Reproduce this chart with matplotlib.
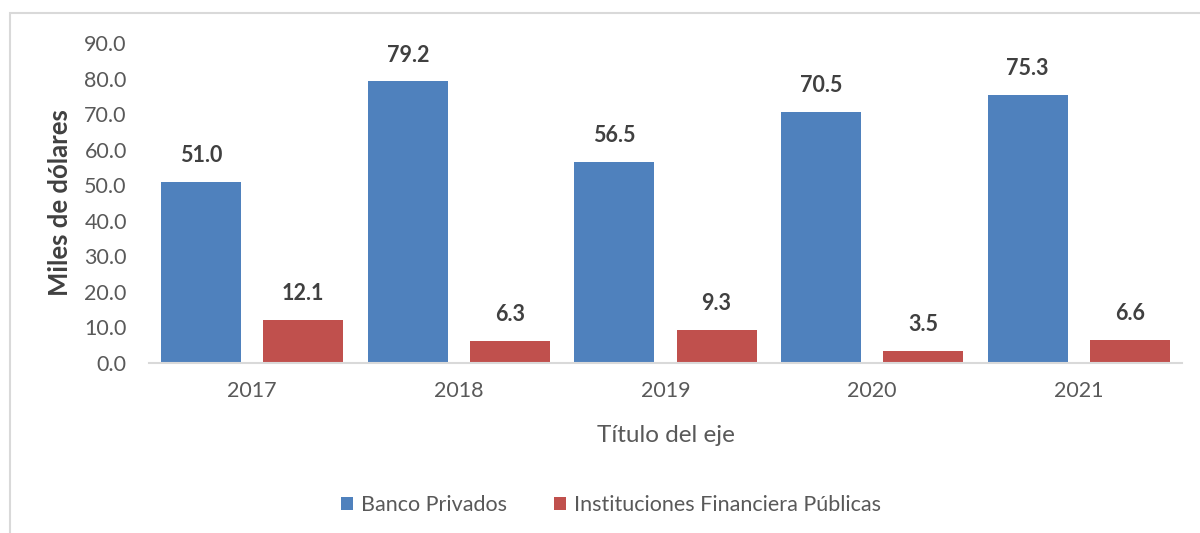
import matplotlib
matplotlib.use("Agg")
import matplotlib.pyplot as plt
import numpy as np
from matplotlib.patches import Rectangle

years = ["2017", "2018", "2019", "2020", "2021"]
banco_privados = [51.0, 79.2, 56.5, 70.5, 75.3]
inst_publicas = [12.1, 6.3, 9.3, 3.5, 6.6]
yticks = [0, 10, 20, 30, 40, 50, 60, 70, 80, 90]

plt.rcParams['font.family'] = ['Lato', 'DejaVu Sans']

BLUE = "#4F81BD"
RED = "#C0504D"
TXT = "#595959"
LBL = "#404040"

fig = plt.figure(figsize=(12, 5.33), dpi=100)
fig.patches.append(Rectangle((10/1200, -0.05), 1.2, 1.05 - 13/533, transform=fig.transFigure,
                             fill=False, edgecolor="#D9D9D9", linewidth=1.5, zorder=0))
ax = fig.add_axes([149/1200, 1 - 363/533, (1182 - 149)/1200, (363 - 43)/533])

x = np.arange(len(years))
w = 0.387
off = 0.247
b1 = ax.bar(x - off, banco_privados, w, color=BLUE, label="Banco Privados")
b2 = ax.bar(x + off, inst_publicas, w, color=RED, label="Instituciones Financiera Públicas")

for bars, vals in ((b1, banco_privados), (b2, inst_publicas)):
    for r, v in zip(bars, vals):
        ax.annotate(f"{v:.1f}", (r.get_x() + r.get_width()/2, v), xytext=(0, 19),
                    textcoords="offset points", ha="center", va="center",
                    fontsize=15.5, fontweight="bold", color=LBL)

ax.set_xlim(-0.5, len(years) - 0.5)
ax.set_ylim(0, 90)
ax.set_yticks(yticks)
ax.set_yticklabels([f"{t:.1f}" for t in yticks])
ax.set_xticks(x)
ax.set_xticklabels(years)
ax.tick_params(axis='both', length=0, labelsize=15.5, labelcolor=TXT)
ax.tick_params(axis='y', pad=16)
ax.tick_params(axis='x', pad=13)
for s in ["top", "right", "left"]:
    ax.spines[s].set_visible(False)
ax.spines["bottom"].set_color("#D9D9D9")
ax.spines["bottom"].set_linewidth(1.5)

ax.set_ylabel("Miles de dólares", fontsize=18.5, fontweight="bold", color=LBL)
ax.yaxis.set_label_coords((60 - 149)/1033, 0.5)
ax.yaxis.label.set_va("center")
ax.set_xlabel("Título del eje", fontsize=17.5, color=TXT)
ax.xaxis.set_label_coords(0.5, (363 - 435)/320)
ax.xaxis.label.set_va("center")

leg = fig.legend(handles=[b1, b2], loc="center", bbox_to_anchor=(611/1200, 1 - 505/533),
                 ncol=2, frameon=False, fontsize=15.5, handlelength=0.55, handleheight=0.55,
                 columnspacing=2.2, handletextpad=0.35)
for t in leg.get_texts():
    t.set_color(TXT)

fig.savefig("out.png", dpi=100)
